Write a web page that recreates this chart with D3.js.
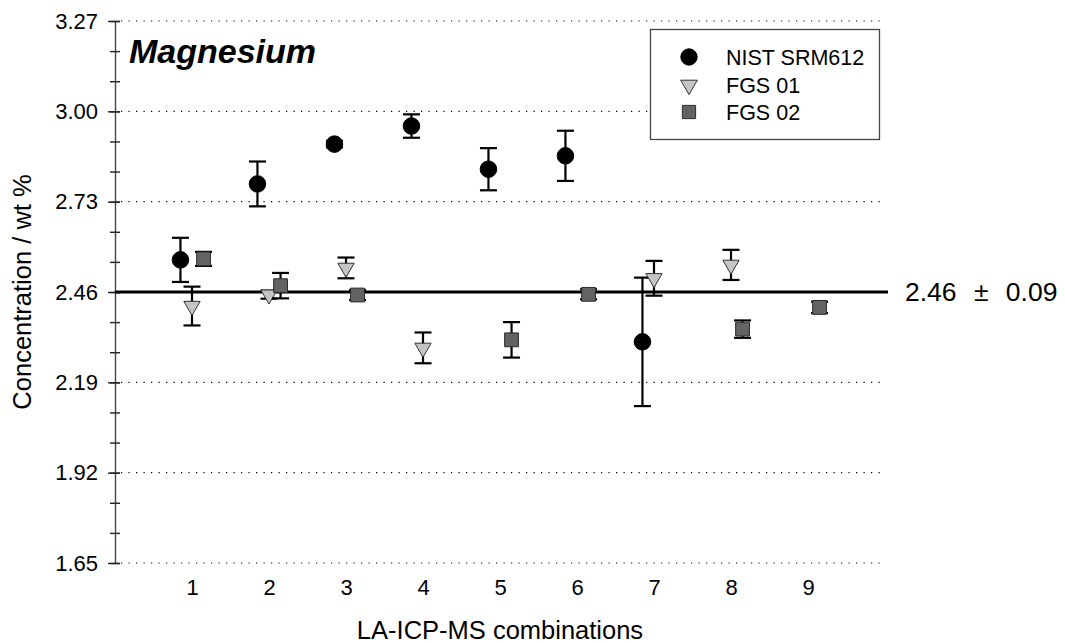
<!DOCTYPE html>
<html>
<head>
<meta charset="utf-8">
<script src="https://cdn.jsdelivr.net/npm/d3@7"></script>
<style>
	body { margin: 0; background: #fff; }
	svg { display: block; font-family: "Liberation Sans", Arial, Helvetica, sans-serif; }
</style>
</head>
<body>
<div id="corpo"></div>
<script>
/* dados */
var combos = [1, 2, 3, 4, 5, 6, 7, 8, 9];
var majorTicks = [1.65, 1.92, 2.19, 2.46, 2.73, 3.00, 3.27];

var nistX = [1, 2, 3, 4, 5, 6, 7];
var nistVal = [2.556, 2.783, 2.902, 2.956, 2.827, 2.867, 2.311];
var nistErr = [0.066, 0.067, 0.010, 0.035, 0.063, 0.075, 0.192];

var fgs01X = [1, 2, 3, 4, 7, 8];
var fgs01Val = [2.418, 2.452, 2.532, 2.293, 2.501, 2.541];
var fgs01Err = [0.058, 0.012, 0.031, 0.046, 0.052, 0.045];

var fgs02X = [1, 2, 3, 5, 6, 8, 9];
var fgs02Val = [2.559, 2.479, 2.451, 2.317, 2.453, 2.349, 2.414];
var fgs02Err = [0.021, 0.038, 0.015, 0.053, 0.015, 0.026, 0.017];

var refValue = 2.46, refUnc = 0.09;

var width = 1065, height = 643;

var svg = d3.select("#corpo").append("svg")
	.attr("width", width)
	.attr("height", height);

var x = d3.scaleLinear().domain([0, 10]).range([115, 885]);
var y = d3.scaleLinear().domain([1.65, 3.27]).range([563, 21]);

var fmt = d3.format(".2f");

// grade pontilhada
svg.append("g")
	.selectAll("line")
	.data(majorTicks.filter(function(d){ return d !== refValue; }))
	.enter().append("line")
	.attr("x1", x(0) + 6)
	.attr("x2", x(10))
	.attr("y1", function(d){ return y(d); })
	.attr("y2", function(d){ return y(d); })
	.attr("stroke", "#000")
	.attr("stroke-width", 1.2)
	.attr("stroke-dasharray", "1.2,6.3");

// eixo y: linha
svg.append("line")
	.attr("x1", 115.5).attr("x2", 115.5)
	.attr("y1", y(3.27)).attr("y2", y(1.65))
	.attr("stroke", "#444")
	.attr("stroke-width", 1.4);

// minor ticks
var minorTicks = d3.range(0, 19).map(function(i){ return +(1.65 + i * 0.09).toFixed(2); });
var minorAxis = d3.axisLeft(y).tickValues(minorTicks).tickSize(10).tickFormat("");
svg.append("g")
	.attr("transform", "translate(120,0)")
	.call(minorAxis)
	.call(function(g){ g.select(".domain").remove(); })
	.selectAll("line").attr("stroke", "#222").attr("stroke-width", 1.4);

// major ticks + labels
var majorAxis = d3.axisLeft(y).tickValues(majorTicks).tickSize(12).tickPadding(10).tickFormat(fmt);
var yAxisG = svg.append("g")
	.attr("transform", "translate(120,0)")
	.call(majorAxis);
yAxisG.select(".domain").remove();
yAxisG.selectAll("line").attr("stroke", "#222").attr("stroke-width", 1.4);
yAxisG.selectAll("text")
	.attr("font-size", 22)
	.attr("font-family", "Liberation Sans, Arial, sans-serif")
	.attr("fill", "#000");

// eixo x: só rótulos
var xAxis = d3.axisBottom(x).tickValues(combos).tickSize(0).tickPadding(0).tickFormat(d3.format("d"));
var xAxisG = svg.append("g")
	.attr("transform", "translate(0,563)")
	.call(xAxis);
xAxisG.select(".domain").remove();
xAxisG.selectAll("text")
	.attr("dy", null)
	.attr("y", 31.5)
	.attr("font-size", 22)
	.attr("font-family", "Liberation Sans, Arial, sans-serif")
	.attr("fill", "#000");

// títulos dos eixos
svg.append("text")
	.attr("x", x(5))
	.attr("y", 639)
	.attr("text-anchor", "middle")
	.attr("font-size", 25.5)
	.text("LA-ICP-MS combinations");

svg.append("text")
	.attr("transform", "translate(31," + y(2.46) + ") rotate(-90)")
	.attr("text-anchor", "middle")
	.attr("font-size", 25.5)
	.text("Concentration / wt %");

// título
svg.append("text")
	.attr("x", 129)
	.attr("y", 63)
	.attr("font-size", 34)
	.attr("font-weight", "bold")
	.attr("font-style", "italic")
	.text("Magnesium");

// linha de referência
svg.append("line")
	.attr("x1", x(0))
	.attr("x2", x(10) + 3)
	.attr("y1", y(refValue))
	.attr("y2", y(refValue))
	.attr("stroke", "#000")
	.attr("stroke-width", 2.8);

svg.append("text")
	.attr("x", 905)
	.attr("y", y(refValue))
	.attr("dy", "0.35em")
	.attr("font-size", 26.5)
	.attr("word-spacing", 10)
	.text(fmt(refValue) + " \u00b1 " + fmt(refUnc));

/* séries */
var series = [
	{ name: "NIST SRM612", xs: nistX, vals: nistVal, errs: nistErr, shift: -0.15,
	  symbol: d3.symbolCircle, size: 215, rot: 0, fill: "#000", stroke: "#000" },
	{ name: "FGS 01", xs: fgs01X, vals: fgs01Val, errs: fgs01Err, shift: 0,
	  symbol: d3.symbolTriangle, size: 115, rot: 180, fill: "#c4c4c4", stroke: "#333" },
	{ name: "FGS 02", xs: fgs02X, vals: fgs02Val, errs: fgs02Err, shift: 0.15,
	  symbol: d3.symbolSquare, size: 190, rot: 0, fill: "#636363", stroke: "#2a2a2a" }
];

var capHalf = 8.5;

series.forEach(function(s){
	var pts = s.xs.map(function(xv, i){ return { x: xv + s.shift, v: s.vals[i], e: s.errs[i] }; });
	var g = svg.append("g");

	var eb = g.selectAll("g.err").data(pts).enter().append("g")
		.attr("stroke", "#000").attr("stroke-width", 2.2);
	eb.append("line")
		.attr("x1", function(d){ return x(d.x); })
		.attr("x2", function(d){ return x(d.x); })
		.attr("y1", function(d){ return y(d.v + d.e); })
		.attr("y2", function(d){ return y(d.v - d.e); });
	eb.append("line")
		.attr("x1", function(d){ return x(d.x) - capHalf; })
		.attr("x2", function(d){ return x(d.x) + capHalf; })
		.attr("y1", function(d){ return y(d.v + d.e); })
		.attr("y2", function(d){ return y(d.v + d.e); });
	eb.append("line")
		.attr("x1", function(d){ return x(d.x) - capHalf; })
		.attr("x2", function(d){ return x(d.x) + capHalf; })
		.attr("y1", function(d){ return y(d.v - d.e); })
		.attr("y2", function(d){ return y(d.v - d.e); });

	g.selectAll("path").data(pts).enter().append("path")
		.attr("d", d3.symbol().type(s.symbol).size(s.size))
		.attr("transform", function(d){ return "translate(" + x(d.x) + "," + y(d.v) + ") rotate(" + s.rot + ")"; })
		.attr("fill", s.fill)
		.attr("stroke", s.stroke)
		.attr("stroke-width", 1);
});

/* legenda */
var leg = svg.append("g");
leg.append("rect")
	.attr("x", 650.5).attr("y", 29.5)
	.attr("width", 229).attr("height", 110)
	.attr("fill", "#fff")
	.attr("stroke", "#444")
	.attr("stroke-width", 1.3);

var legSizes = [210, 120, 175];
var legY = [57, 85, 112];
series.forEach(function(s, i){
	leg.append("path")
		.attr("d", d3.symbol().type(s.symbol).size(legSizes[i]))
		.attr("transform", "translate(689," + legY[i] + ") rotate(" + s.rot + ")")
		.attr("fill", s.fill)
		.attr("stroke", s.stroke)
		.attr("stroke-width", 1);
	leg.append("text")
		.attr("x", 726)
		.attr("y", legY[i])
		.attr("dy", "0.35em")
		.attr("font-size", 21.5)
		.text(s.name);
});
</script>
</body>
</html>
